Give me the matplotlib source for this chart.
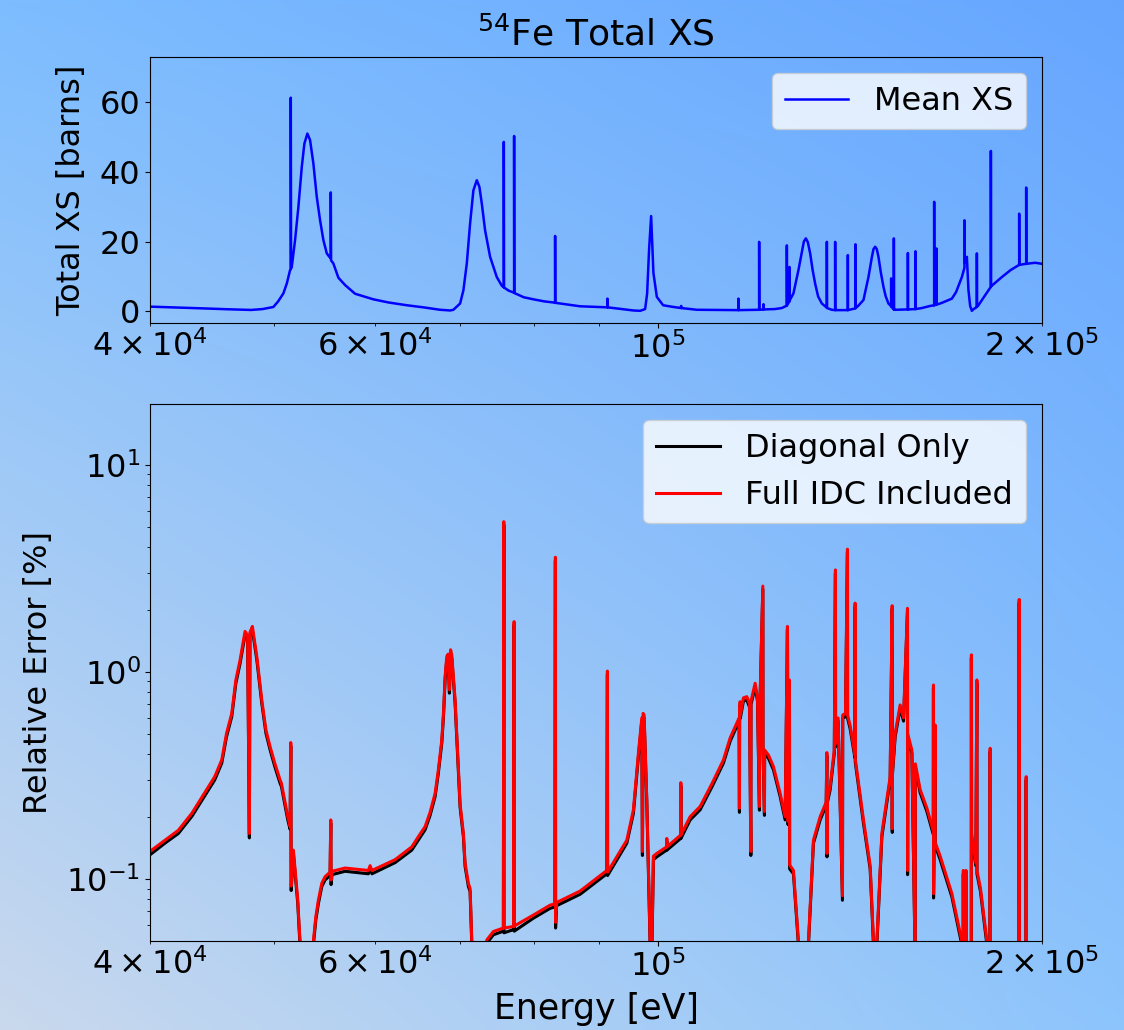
import numpy as np
import matplotlib
matplotlib.use("Agg")
import matplotlib.pyplot as plt

# ---------------- data ----------------
# Top panel: mean total cross section of 54Fe [barns]
xs_energy = [40000, 42000, 44000, 46000, 48000, 49000, 49969, 50400, 50879, 51200,
             51498, 51563, 51563, 51590, 51656, 51964, 52276, 52597, 52845, 53131,
             53391, 53710, 54040, 54363, 54689, 55024, 55283, 55423, 55423, 55450,
             55683, 56190, 56872, 57908, 59853, 61500, 63571, 65500, 67509, 68739,
             69150, 69991, 70409, 70842, 71265, 71690, 72132, 72472, 72786, 73220,
             73885, 74780, 75461, 75734, 75734, 75760, 76400, 77155, 77155, 77180,
             77531, 78500, 79890, 81500, 82827, 83081, 83081, 83100, 86915, 91206,
             91305, 91305, 91330, 95691, 96856, 97733, 98085, 98443, 98798, 99208,
             99819, 100960, 102855, 104295, 104295, 104320, 107292, 115657, 115657, 115680,
             120061, 120061, 120080, 120995, 120995, 121020, 123500, 125081, 126214, 126214,
             126240, 126809, 126809, 126830, 127727, 128885, 129678, 130150, 130618, 131090,
             131636, 132230, 132829, 133550, 134445, 135663, 135663, 135690, 136893, 137710,
             137710, 137730, 140902, 140902, 140920, 142847, 142847, 142870, 143540, 144927,
             146241, 147140, 147566, 148019, 148460, 148904, 149560, 150253, 150850, 151616,
             152357, 152357, 152380, 153100, 153100, 153130, 153463, 157023, 157023, 157050,
             159188, 159188, 159210, 161036, 163467, 164650, 164650, 164680, 165332, 165332,
             165360, 166444, 168000, 169995, 171300, 173092, 173905, 173905, 173930, 174660,
             175163, 175700, 176243, 176800, 177840, 177840, 177870, 178353, 180525, 182392,
             182392, 182420, 186050, 189000, 191708, 191950, 191950, 191980, 194390, 194390,
             194420, 197573, 200000]
xs_mean = [1.3, 1.05, 0.8, 0.55, 0.35, 0.6, 1.2, 2.8, 5.1, 8.0,
           11.8, 12.0, 61.3, 12.3, 12.7, 20.4, 29.9, 41.4, 48.1, 51.0,
           49.1, 42.4, 32.8, 26.1, 20.4, 16.6, 15.6, 15.2, 34.1, 14.6,
           13.7, 9.6, 7.5, 5.0, 3.4, 2.5, 1.7, 1.1, 0.4, 0.2,
           0.4, 2.2, 6.0, 13.7, 25.2, 34.7, 37.6, 35.7, 30.9, 23.2,
           15.6, 9.8, 7.3, 6.9, 48.6, 6.8, 5.9, 5.3, 50.3, 5.2,
           4.9, 4.0, 3.4, 2.8, 2.5, 2.4, 21.6, 2.4, 1.4, 1.1,
           1.1, 3.6, 1.1, 0.2, 0.1, 0.6, 5.0, 18.0, 27.3, 11.0,
           4.1, 1.7, 1.2, 0.9, 1.5, 0.9, 0.4, 0.3, 3.6, 0.3,
           0.4, 19.9, 0.4, 0.5, 2.0, 0.5, 0.6, 0.9, 1.6, 18.9,
           1.7, 2.8, 12.7, 3.0, 5.1, 11.8, 17.0, 20.0, 20.9, 19.8,
           16.6, 11.8, 7.9, 4.2, 2.2, 1.0, 19.9, 0.9, 0.4, 0.3,
           19.9, 0.3, 0.3, 16.1, 0.3, 0.8, 19.2, 0.9, 1.5, 3.2,
           9.8, 15.5, 17.8, 18.5, 17.8, 15.6, 11.0, 7.0, 4.3, 2.2,
           1.4, 9.4, 1.3, 0.5, 20.9, 0.5, 0.4, 0.5, 16.7, 0.5,
           0.6, 17.2, 0.6, 0.9, 1.5, 1.7, 31.4, 1.7, 1.9, 18.0,
           1.9, 2.2, 2.8, 3.6, 5.5, 9.8, 12.5, 26.1, 14.0, 15.6,
           6.0, 1.5, 0.1, 0.6, 1.2, 16.6, 1.3, 1.7, 4.6, 7.0,
           46.0, 7.1, 9.8, 11.8, 13.2, 13.3, 28.0, 13.3, 13.6, 35.5,
           13.6, 13.9, 13.6]

# Bottom panel: relative error [%]
re_energy = [40000, 41090, 42096, 43140, 44038, 44950, 45525, 45920, 46355, 46700,
             47054, 47480, 47700, 47851, 47900, 48110, 48494, 48934, 49300, 49672,
             50100, 50577, 50700, 51285, 51500, 51563, 51600, 51805, 52219, 52350,
             52436, 52900, 53710, 53948, 54197, 54530, 54855, 55353, 55423, 55450,
             55550, 56872, 59315, 59497, 59700, 62243, 64147, 65116, 65706, 66302,
             66903, 67270, 67716, 67940, 68121, 68330, 68500, 68652, 68800, 68950,
             69362, 69991, 70409, 70624, 71047, 71265, 71484, 72500, 73446, 74326,
             75679, 75734, 75760, 77100, 77155, 77180, 79890, 82335, 83050, 83125,
             83150, 83300, 86915, 91206, 91305, 91330, 94558, 95691, 96559, 97153,
             97258, 97380, 97556, 98031, 98620, 98800, 98950, 99208, 99819, 101600,
             101637, 101660, 104200, 104239, 104260, 106003, 107933, 110300, 112567, 113938,
             114970, 115800, 115867, 115900, 116013, 116050, 116706, 117420, 118000, 118275,
             118300, 119196, 119700, 120125, 120150, 120864, 120890, 121214, 121250, 122093,
             123199, 124698, 125828, 126351, 126500, 126809, 126850, 127727, 128885, 129978,
             131233, 132422, 134033, 135500, 135663, 135700, 135750, 136474, 137500, 137783,
             137810, 138450, 139536, 139600, 140300, 140802, 140830, 141490, 142700, 142767,
             142800, 144927, 146690, 147571, 148000, 148476, 149821, 152082, 152632, 152660,
             152700, 153463, 154852, 155800, 156911, 156940, 157000, 158157, 159112, 159150,
             160543, 162500, 164400, 164443, 164470, 164943, 164970, 166444, 169995, 173092,
             173300, 173553, 173553, 173580, 174400, 174400, 174430, 176050, 176100, 176150,
             177500, 177840, 177870, 179000, 181100, 181600, 182162, 182162, 182190, 191950,
             191950, 191980, 194390, 194390, 194420, 200000]
re_full_idc = [0.136, 0.154, 0.172, 0.208, 0.255, 0.312, 0.376, 0.505, 0.631, 0.915,
               1.14, 1.57, 1.50, 0.166, 1.55, 1.66, 1.19, 0.733, 0.525, 0.436,
               0.362, 0.301, 0.29, 0.200, 0.180, 0.456, 0.0925, 0.138, 0.079, 0.0588,
               0.050, 0.010, 0.050, 0.0658, 0.079, 0.0953, 0.1026, 0.108, 0.193, 0.099,
               0.109, 0.113, 0.110, 0.116, 0.110, 0.124, 0.143, 0.165, 0.179, 0.21,
               0.259, 0.33, 0.469, 0.65, 0.949, 1.19, 1.22, 0.82, 1.28, 1.20,
               0.733, 0.23, 0.166, 0.119, 0.0953, 0.090, 0.050, 0.010, 0.0508, 0.0558,
               0.058, 5.32, 0.058, 0.059, 1.75, 0.0593, 0.067, 0.0748, 0.076, 3.58,
               0.0618, 0.077, 0.0875, 0.110, 1.01, 0.108, 0.154, 0.216, 0.405, 0.60,
               0.136, 0.631, 0.62, 0.241, 0.05, 0.005, 0.05, 0.129, 0.133, 0.143,
               0.157, 0.143, 0.163, 0.292, 0.163, 0.20, 0.224, 0.29, 0.376, 0.48,
               0.544, 0.60, 0.220, 0.62, 0.719, 0.62, 0.75, 0.76, 0.70, 0.136,
               0.72, 0.882, 0.75, 0.224, 0.60, 2.60, 0.45, 0.212, 0.42, 0.397,
               0.349, 0.259, 0.200, 1.66, 0.190, 0.915, 0.117, 0.110, 0.05, 0.005,
               0.05, 0.154, 0.200, 0.235, 0.408, 0.133, 0.240, 0.280, 0.420, 3.11,
               0.450, 0.60, 0.083, 0.62, 0.63, 3.92, 0.62, 0.55, 0.40, 2.15,
               0.38, 0.193, 0.116, 0.05, 0.005, 0.05, 0.166, 0.312, 2.09, 0.175,
               0.33, 0.505, 0.693, 0.60, 2.03, 0.110, 0.50, 0.42, 0.04, 0.36,
               0.27, 0.22, 0.17, 0.865, 0.085, 0.555, 0.15, 0.129, 0.085, 0.05,
               0.02, 0.02, 0.110, 0.02, 0.02, 0.110, 0.02, 0.02, 1.21, 0.166,
               0.12, 0.915, 0.11, 0.09, 0.05, 0.02, 0.02, 0.428, 0.02, 0.02,
               2.24, 0.02, 0.02, 0.312, 0.02, 0.02]
re_diagonal = [0.131, 0.149, 0.166, 0.201, 0.246, 0.301, 0.363, 0.487, 0.609, 0.883,
               1.10, 1.51, 1.45, 0.158, 1.50, 1.60, 1.15, 0.707, 0.507, 0.421,
               0.349, 0.290, 0.28, 0.193, 0.174, 0.44, 0.088, 0.133, 0.076, 0.0567,
               0.048, 0.010, 0.048, 0.0635, 0.076, 0.092, 0.099, 0.104, 0.186, 0.094,
               0.105, 0.109, 0.106, 0.112, 0.106, 0.120, 0.138, 0.159, 0.173, 0.203,
               0.250, 0.318, 0.453, 0.627, 0.916, 1.15, 1.18, 0.79, 1.24, 1.16,
               0.707, 0.222, 0.160, 0.115, 0.092, 0.087, 0.048, 0.010, 0.049, 0.0538,
               0.056, 5.13, 0.055, 0.057, 1.69, 0.056, 0.0647, 0.0722, 0.0733, 3.45,
               0.058, 0.0743, 0.0844, 0.106, 0.975, 0.104, 0.149, 0.208, 0.391, 0.579,
               0.13, 0.609, 0.598, 0.233, 0.048, 0.005, 0.048, 0.124, 0.128, 0.138,
               0.152, 0.138, 0.157, 0.282, 0.157, 0.193, 0.216, 0.28, 0.363, 0.463,
               0.525, 0.579, 0.21, 0.598, 0.694, 0.598, 0.724, 0.733, 0.676, 0.13,
               0.695, 0.851, 0.724, 0.215, 0.579, 2.51, 0.434, 0.203, 0.405, 0.383,
               0.337, 0.250, 0.193, 1.60, 0.183, 0.883, 0.112, 0.106, 0.048, 0.005,
               0.048, 0.149, 0.193, 0.227, 0.394, 0.128, 0.232, 0.270, 0.405, 3.00,
               0.434, 0.579, 0.079, 0.598, 0.608, 3.78, 0.598, 0.531, 0.386, 2.07,
               0.367, 0.186, 0.112, 0.048, 0.005, 0.048, 0.160, 0.301, 2.02, 0.168,
               0.318, 0.487, 0.669, 0.579, 1.96, 0.105, 0.483, 0.405, 0.04, 0.347,
               0.261, 0.212, 0.164, 0.835, 0.081, 0.536, 0.145, 0.124, 0.082, 0.048,
               0.02, 0.02, 0.106, 0.02, 0.02, 0.106, 0.02, 0.02, 1.17, 0.160,
               0.116, 0.883, 0.106, 0.087, 0.048, 0.02, 0.02, 0.413, 0.02, 0.02,
               2.16, 0.02, 0.02, 0.301, 0.02, 0.02]

# ---------------- figure ----------------
FS = 23
plt.rcParams['font.family'] = ['DejaVu Sans']
plt.rcParams['font.size'] = FS

fig = plt.figure(figsize=(11.24, 10.30), dpi=100)

# gradient background (bilinear between corner colours)
tl = np.array([0.49, 0.74, 1.00])
tr = np.array([0.40, 0.65, 1.00])
bl = np.array([0.79, 0.85, 0.93])
br = np.array([0.55, 0.77, 0.99])
ny, nx = 200, 200
yy, xx = np.mgrid[0:1:ny * 1j, 0:1:nx * 1j]
top = tl[None, None, :] * (1 - xx[..., None]) + tr[None, None, :] * xx[..., None]
bot = bl[None, None, :] * (1 - xx[..., None]) + br[None, None, :] * xx[..., None]
grad = top * (1 - yy[..., None]) + bot * yy[..., None]
bg = fig.add_axes([0, 0, 1, 1], zorder=-10)
bg.imshow(grad, extent=[0, 1, 0, 1], aspect='auto', origin='upper', interpolation='bilinear')
bg.axis('off')

ax1 = fig.add_axes([0.1335, 0.6864, 0.7935, 0.2583])
ax2 = fig.add_axes([0.1335, 0.0864, 0.7935, 0.5214])
for ax in (ax1, ax2):
    ax.set_facecolor('none')

ax1.plot(xs_energy, xs_mean, color='blue', lw=1.8, label='Mean XS')
ax1.set_xscale('log')
ax1.set_xlim(4e4, 2e5)
ax1.set_ylim(-3.4, 73)
ax1.set_yticks([0, 20, 40, 60])
ax1.set_ylabel('Total XS [barns]', fontsize=FS, labelpad=9)
ax1.set_title(r'$^{54}$Fe Total XS', fontsize=26, pad=8)
ax1.legend(loc='upper right', fontsize=FS)

ax2.plot(re_energy, re_diagonal, color='black', lw=2.2, label='Diagonal Only')
ax2.plot(re_energy, re_full_idc, color='red', lw=2.2, label='Full IDC Included')
ax2.set_xscale('log')
ax2.set_yscale('log')
ax2.set_xlim(4e4, 2e5)
ax2.set_ylim(0.0502, 19.7)
ax2.set_ylabel('Relative Error [%]', fontsize=FS, labelpad=9)
ax2.set_xlabel('Energy [eV]', fontsize=25, labelpad=6)
ax2.legend(loc='upper right', fontsize=FS)

fig.savefig('out.png', dpi=100)
